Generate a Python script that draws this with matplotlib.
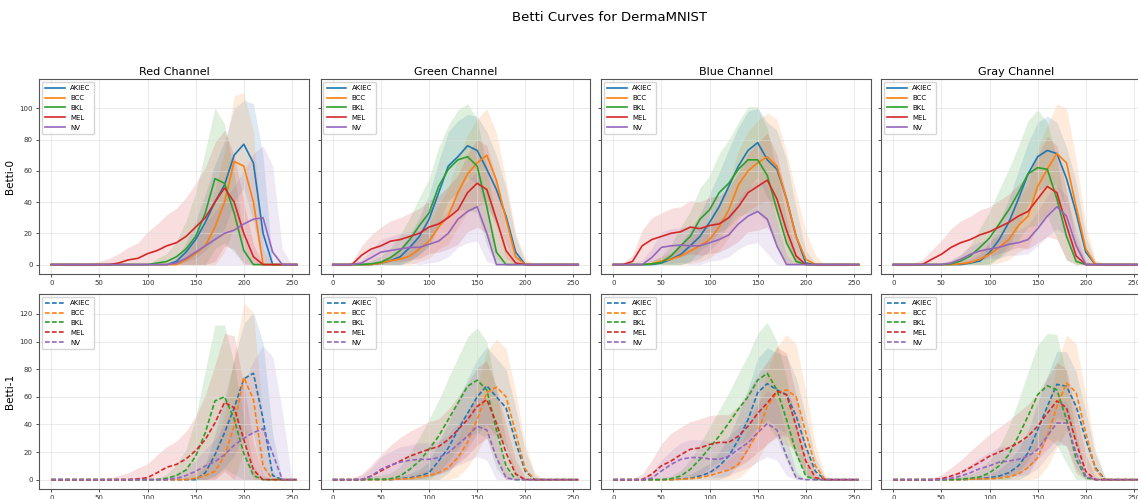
import matplotlib
matplotlib.use("Agg")
import matplotlib.pyplot as plt
import numpy as np

classes = ["AKIEC", "BCC", "BKL", "MEL", "NV"]
channels = ["Red", "Green", "Blue", "Gray"]
colors = ["#1f77b4", "#ff7f0e", "#2ca02c", "#d62728", "#9467bd"]

# pixel intensity thresholds where the curves were sampled
thresholds = list(range(0, 251, 10)) + [255]

# ---- Betti-0 ----
red_b0_mean = {
    "AKIEC": [0]*13 + [2, 8, 16, 27, 40, 51, 70, 77, 65, 20] + [0]*4,
    "BCC":   [0]*14 + [3, 7, 12, 24, 40, 66, 63, 40] + [0]*5,
    "BKL":   [0]*11 + [1, 2, 5, 10, 18, 33, 55, 52, 33, 9] + [0]*6,
    "MEL":   [0]*7 + [1, 3, 4, 7, 9, 12, 14, 18, 24, 30, 40, 49, 40, 20, 5] + [0]*5,
    "NV":    [0]*13 + [1, 4, 8, 12, 16, 20, 22, 26, 29, 30, 8] + [0]*3,
}
red_b0_std = {
    "AKIEC": [0]*13 + [2, 6, 12, 18, 24, 28, 30, 28, 38, 50] + [0]*4,
    "BCC":   [0]*14 + [4, 8, 14, 24, 32, 42, 47, 45, 10] + [0]*4,
    "BKL":   [0]*11 + [3, 5, 10, 18, 28, 40, 45, 38, 25, 8] + [0]*6,
    "MEL":   [0]*4 + [1, 2, 4, 6, 8, 10, 14, 17, 20, 22, 25, 28, 32, 38, 37, 30, 20, 8] + [0]*5,
    "NV":    [0]*12 + [1, 3, 6, 10, 14, 18, 22, 28, 34, 42, 46, 55, 10] + [0]*2,
}

green_b0_mean = {
    "AKIEC": [0]*5 + [1, 2.5, 5, 11, 18, 29, 46, 63, 69, 76, 73, 61, 48, 31, 8] + [0]*7,
    "BCC":   [0]*5 + [1, 2.5, 3.5, 5.5, 10, 15, 24, 31, 46, 58, 65, 70, 54, 29, 5] + [0]*7,
    "BKL":   [0]*4 + [0.5, 1.5, 4.5, 9, 16, 25, 33, 50, 61, 67, 69, 63, 37, 8] + [0]*9,
    "MEL":   [0]*3 + [6, 10, 12, 15, 16, 18, 20, 24, 26, 30, 35, 46, 52, 48, 29, 9, 1] + [0]*7,
    "NV":    [0]*3 + [1, 4.5, 8, 9, 10, 11, 11, 13, 15, 20, 29, 34, 37, 20] + [0]*10,
}
green_b0_std = {
    "AKIEC": [0]*4 + [1, 2, 3, 5, 8, 12, 16, 20, 22, 23, 20, 22, 24, 22, 18, 10, 2] + [0]*6,
    "BCC":   [0]*4 + [1, 2, 3, 4, 6, 8, 11, 14, 18, 22, 25, 28, 30, 30, 25, 15, 4] + [0]*6,
    "BKL":   [0]*3 + [1, 2, 4, 6, 10, 14, 18, 22, 25, 28, 32, 34, 30, 25, 18, 8, 1] + [0]*7,
    "MEL":   [0]*2 + [2, 6, 9, 12, 13, 14, 15, 16, 17, 18, 20, 22, 25, 28, 28, 25, 15, 5] + [0]*7,
    "NV":    [0]*2 + [1, 2, 5, 8, 9, 10, 10, 11, 12, 13, 15, 18, 20, 22, 18, 5] + [0]*9,
}

blue_b0_mean = {
    "AKIEC": [0]*5 + [1, 3.5, 6.5, 12, 18, 27, 37, 50, 63, 73, 78, 67, 61, 42, 18, 1] + [0]*6,
    "BCC":   [0]*4 + [0.5, 2.3, 3.4, 5.5, 8.7, 12, 16, 24, 35, 51, 60, 65, 69, 63, 42, 18, 3.4] + [0]*6,
    "BKL":   [0]*4 + [0.5, 1.3, 5.5, 12, 18, 29, 35, 46, 52, 61, 67, 67, 57, 35, 14, 2] + [0]*7,
    "MEL":   [0]*2 + [2, 12, 16, 18, 20, 21, 24, 23, 25, 26, 30, 37, 46, 50, 54, 42, 22, 5.5] + [0]*7,
    "NV":    [0]*4 + [4.5, 11, 12, 12.5, 12, 12, 14, 16, 19, 26, 31, 34, 29, 12] + [0]*9,
}
blue_b0_std = {
    "AKIEC": [0]*4 + [1, 2, 4, 7, 10, 14, 18, 22, 24, 25, 25, 22, 24, 25, 25, 18, 8, 1] + [0]*5,
    "BCC":   [0]*3 + [1, 2, 3, 4, 6, 8, 10, 12, 15, 18, 22, 25, 27, 28, 30, 30, 28, 18, 6] + [0]*5,
    "BKL":   [0]*3 + [1, 2, 4, 7, 12, 16, 20, 22, 25, 28, 30, 34, 34, 30, 25, 15, 5] + [0]*7,
    "MEL":   [0] + [1, 4, 10, 14, 15, 16, 16, 17, 17, 18, 18, 19, 22, 25, 28, 30, 28, 22, 10, 2] + [0]*6,
    "NV":    [0]*2 + [1, 3, 6, 10, 11, 11, 12, 12, 12, 13, 14, 16, 18, 20, 22, 16, 6] + [0]*8,
}

gray_b0_mean = {
    "AKIEC": [0]*8 + [1, 2.3, 7.7, 16, 27, 42, 58, 69, 73, 71, 55, 33, 8] + [0]*6,
    "BCC":   [0]*7 + [0.5, 1.3, 3.4, 6.6, 11, 16, 25, 31, 50, 61, 71, 65, 37, 10] + [0]*6,
    "BKL":   [0]*6 + [0.5, 2.3, 5.5, 11, 17, 26, 35, 46, 58, 62, 61, 42, 18, 2] + [0]*7,
    "MEL":   [0]*4 + [3.4, 6.6, 11, 14, 16, 19, 21, 24, 27, 31, 34, 42, 50, 46, 25, 5.5] + [0]*7,
    "NV":    [0]*6 + [1, 3.4, 6.6, 8.7, 10, 11, 13, 14, 16, 23, 31, 37, 31, 12] + [0]*7,
}
gray_b0_std = {
    "AKIEC": [0]*7 + [1, 2, 4, 7, 11, 15, 18, 20, 22, 22, 20, 20, 20, 10, 2] + [0]*5,
    "BCC":   [0]*6 + [1, 2, 3, 5, 7, 10, 13, 17, 20, 24, 28, 32, 35, 30, 15, 3] + [0]*5,
    "BKL":   [0]*5 + [1, 2, 4, 7, 12, 17, 22, 26, 30, 34, 37, 30, 25, 15, 4] + [0]*7,
    "MEL":   [0]*2 + [1, 3, 6, 9, 12, 14, 15, 16, 16, 17, 18, 20, 24, 28, 32, 30, 22, 10, 2] + [0]*6,
    "NV":    [0]*5 + [1, 2, 3, 5, 6, 6, 7, 7, 8, 9, 11, 13, 14, 13, 10, 2] + [0]*6,
}

# ---- Betti-1 ----
red_b1_mean = {
    "AKIEC": [0]*16 + [5, 18, 34, 52, 73, 77, 44, 3] + [0]*3,
    "BCC":   [0]*15 + [1, 3, 6, 17, 39, 74, 58, 10] + [0]*4,
    "BKL":   [0]*12 + [1, 3, 7, 17, 34, 57, 60, 44, 19, 3] + [0]*5,
    "MEL":   [0]*9 + [0.5, 1.5, 5, 9, 11, 15, 21, 29, 41, 56, 52, 29, 7] + [0]*5,
    "NV":    [0]*13 + [1, 3, 6, 10, 13, 18, 25, 30, 34, 37, 19] + [0]*3,
}
red_b1_std = {
    "AKIEC": [0]*15 + [2, 6, 15, 25, 35, 40, 44, 55, 30] + [0]*3,
    "BCC":   [0]*14 + [2, 4, 8, 15, 30, 50, 54, 63, 35, 5] + [0]*3,
    "BKL":   [0]*11 + [1, 3, 8, 15, 28, 45, 55, 52, 40, 25, 8] + [0]*5,
    "MEL":   [0]*6 + [1, 3, 5, 8, 10, 13, 15, 17, 20, 25, 32, 42, 50, 52, 40, 20, 3] + [0]*4,
    "NV":    [0]*12 + [1, 3, 5, 8, 12, 16, 22, 30, 40, 52, 60, 70, 50] + [0]*2,
}

green_b1_mean = {
    "AKIEC": [0]*7 + [0.7, 1.4, 2.6, 5, 13.5, 23, 36, 48, 60, 68, 60, 52, 27, 6] + [0]*6,
    "BCC":   [0]*7 + [0.5, 0.7, 2, 3, 5, 8.7, 16, 27, 43.5, 63, 67, 60, 34, 7.5] + [0]*6,
    "BKL":   [0]*4 + [0.3, 0.3, 0.7, 2.6, 7.5, 13.5, 22, 31.5, 43.5, 55.5, 67.6, 72, 65, 36, 10] + [0]*8,
    "MEL":   [0]*4 + [2.6, 6.3, 10, 13.5, 17, 19.5, 22, 24, 29, 36, 43.5, 53, 58, 41, 19.5, 4] + [0]*7,
    "NV":    [0]*4 + [2.6, 7.5, 10.6, 12.7, 14, 14.7, 14.7, 16, 19.5, 25.5, 31.5, 38.7, 36, 16, 1.4] + [0]*8,
}
green_b1_std = {
    "AKIEC": [0]*6 + [1, 2, 3, 5, 8, 14, 18, 22, 25, 27, 28, 28, 28, 25, 15, 3] + [0]*5,
    "BCC":   [0]*6 + [1, 2, 2, 3, 5, 7, 10, 14, 18, 24, 30, 35, 35, 30, 18, 5] + [0]*5,
    "BKL":   [0]*3 + [1, 2, 3, 4, 7, 12, 17, 22, 26, 30, 33, 36, 38, 35, 28, 18, 6] + [0]*7,
    "MEL":   [0]*2 + [1, 4, 8, 12, 15, 17, 18, 19, 20, 20, 22, 24, 26, 28, 28, 26, 20, 10, 2] + [0]*6,
    "NV":    [0]*2 + [1, 3, 6, 9, 10, 11, 11, 12, 12, 12, 13, 15, 18, 22, 22, 16, 6] + [0]*8,
}

blue_b1_mean = {
    "AKIEC": [0]*7 + [0.5, 1, 2.6, 5, 10, 17, 29, 43.5, 63, 69.5, 65, 61.5, 46, 24, 6] + [0]*5,
    "BCC":   [0]*7 + [0.3, 0.7, 1.4, 3, 5, 7, 11, 22, 34, 53, 63, 65, 60, 34, 10] + [0]*5,
    "BKL":   [0]*6 + [0.7, 2.6, 7.5, 14.7, 23, 31.5, 41, 51, 60, 72, 77, 65, 43.5, 19.5, 2.6] + [0]*6,
    "MEL":   [0]*4 + [4, 10, 13.5, 18, 22, 23, 25.5, 27, 27, 31.5, 38.7, 48, 55.5, 64, 61.5, 38.7, 13.5, 1.4] + [0]*5,
    "NV":    [0]*4 + [1, 6.3, 11, 14.7, 16, 16, 15, 14.7, 17, 22, 26.7, 34, 40.6, 36, 17, 1.4] + [0]*7,
}
blue_b1_std = {
    "AKIEC": [0]*6 + [1, 2, 3, 5, 7, 10, 14, 18, 22, 25, 26, 27, 28, 28, 22, 10, 2] + [0]*4,
    "BCC":   [0]*6 + [1, 1, 2, 3, 4, 6, 8, 10, 15, 20, 26, 33, 40, 38, 30, 15, 3] + [0]*4,
    "BKL":   [0]*5 + [1, 2, 4, 7, 11, 15, 19, 22, 26, 30, 34, 37, 35, 30, 20, 8, 1] + [0]*5,
    "MEL":   [0]*2 + [1, 4, 10, 16, 20, 20, 20, 21, 21, 20, 20, 22, 25, 28, 30, 32, 30, 22, 10, 3] + [0]*5,
    "NV":    [0]*3 + [1, 4, 8, 10, 12, 13, 13, 13, 13, 14, 16, 18, 21, 24, 22, 14, 4] + [0]*7,
}

gray_b1_mean = {
    "AKIEC": [0]*8 + [0.3, 0.7, 1.4, 2.6, 5, 10, 19.5, 36, 53, 69, 67.6, 53, 29, 8.7] + [0]*5,
    "BCC":   [0]*8 + [0.3, 0.5, 0.7, 1, 2, 4, 8.7, 16, 31.5, 53, 70, 63, 34, 7.5] + [0]*5,
    "BKL":   [0]*7 + [0.3, 1, 2, 5, 10, 18, 31.5, 46, 61.5, 68, 65, 43.5, 14.7, 1.4] + [0]*6,
    "MEL":   [0]*5 + [0.7, 2.6, 5, 8.7, 12.7, 17, 20, 23, 26.7, 31.5, 38.7, 48, 57, 52, 26.7, 6] + [0]*6,
    "NV":    [0]*6 + [1, 2.6, 5, 8, 10, 12.7, 13.5, 14.7, 17, 22, 31.5, 41, 41, 19.5, 2.6] + [0]*6,
}
gray_b1_std = {
    "AKIEC": [0]*7 + [1, 1, 2, 3, 5, 8, 12, 16, 20, 22, 24, 25, 25, 20, 10, 2] + [0]*4,
    "BCC":   [0]*7 + [1, 1, 1, 2, 3, 4, 6, 10, 15, 22, 30, 35, 35, 28, 14, 2] + [0]*4,
    "BKL":   [0]*6 + [1, 2, 3, 5, 9, 14, 20, 26, 32, 36, 38, 40, 32, 18, 5] + [0]*6,
    "MEL":   [0]*4 + [1, 3, 6, 9, 12, 14, 16, 18, 20, 22, 23, 24, 26, 28, 28, 22, 12, 2] + [0]*5,
    "NV":    [0]*5 + [1, 2, 4, 6, 8, 10, 11, 11, 12, 13, 14, 15, 16, 16, 12, 4] + [0]*6,
}

rows = [
    [(red_b0_mean, red_b0_std), (green_b0_mean, green_b0_std),
     (blue_b0_mean, blue_b0_std), (gray_b0_mean, gray_b0_std)],
    [(red_b1_mean, red_b1_std), (green_b1_mean, green_b1_std),
     (blue_b1_mean, blue_b1_std), (gray_b1_mean, gray_b1_std)],
]
row_labels = ["Betti-0", "Betti-1"]
row_styles = ["-", (0, (2.8, 1.4))]
row_ylims = [(-5.7, 118.7), (-6.4, 134.4)]
row_yticks = [range(0, 101, 20), range(0, 121, 20)]

W, H = 1138, 499
fig, axes = plt.subplots(2, 4, figsize=(W / 100, H / 100), dpi=100, sharey="row")

col_left = [39, 320.5, 601, 881]
row_top = [79, 294]
ax_w, ax_h = 270, 194.5

x = np.array(thresholds)
for r in range(2):
    for c in range(4):
        ax = axes[r, c]
        ax.set_position([col_left[c] / W, 1 - (row_top[r] + ax_h) / H, ax_w / W, ax_h / H])
        means, stds = rows[r][c]
        for cls, col in zip(classes, colors):
            m = np.array(means[cls], dtype=float)
            s = np.array(stds[cls], dtype=float)
            ax.fill_between(x, np.clip(m - s, 0, None), m + s, color=col, alpha=0.15, lw=0)
            ax.plot(x, m, ls=row_styles[r], color=col, lw=1.2, label=cls)
        ax.set_xlim(-12.75, 267.75)
        ax.set_ylim(*row_ylims[r])
        ax.set_xticks(range(0, 251, 50))
        ax.set_yticks(list(row_yticks[r]))
        ax.grid(True, color="#dddddd", lw=0.6, alpha=0.7)
        ax.tick_params(labelsize=5, length=2.5, width=0.6, pad=2, colors="#333333")
        for sp in ax.spines.values():
            sp.set_color("#555555")
            sp.set_linewidth(0.8)
        ax.legend(loc="upper left", fontsize=5, frameon=True, borderpad=0.5,
                  labelspacing=0.55, handlelength=2.8, borderaxespad=0.4)
        if r == 0:
            ax.set_title(f"{channels[c]} Channel", fontsize=8, pad=3)
        if c == 0:
            ax.set_ylabel(row_labels[r], fontsize=7.5, labelpad=3)

fig.suptitle("Betti Curves for DermaMNIST", fontsize=9.5, x=0.536, y=0.978)
fig.savefig("out.png", dpi=100)
